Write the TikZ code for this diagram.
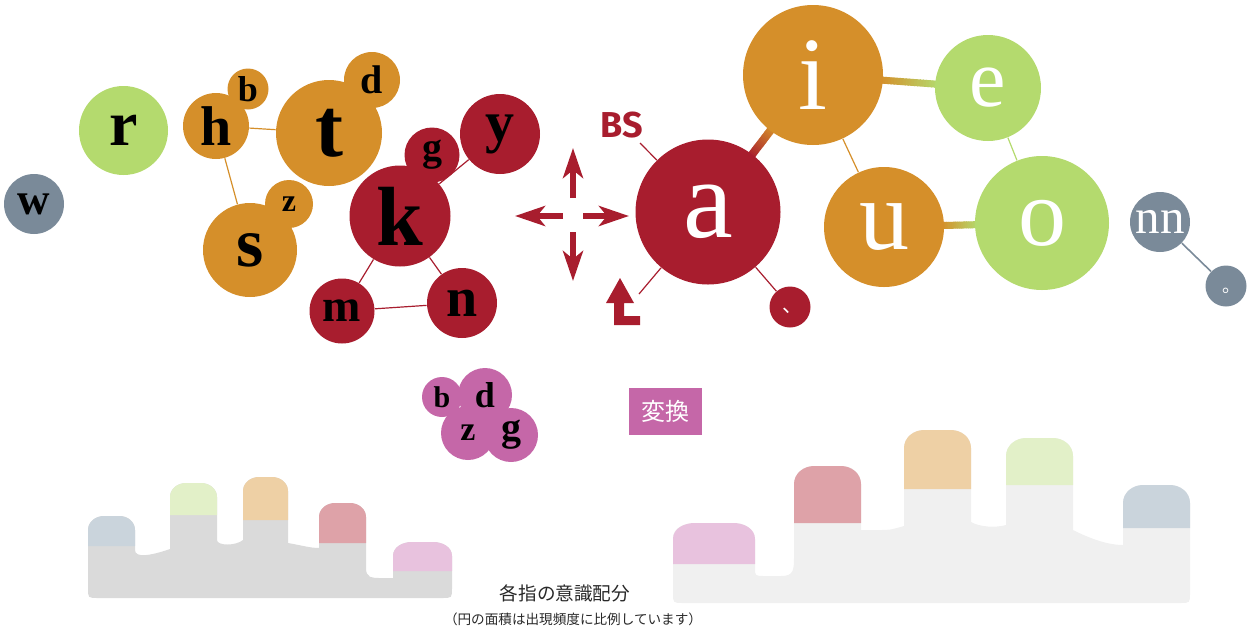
\documentclass[tikz,border=0pt]{standalone}
\usepackage{fontspec}
\setmainfont{Liberation Serif}
\newfontfamily\cjk{Noto Sans CJK JP}
\newfontfamily\bsfont{Fira Sans}
\usetikzlibrary{backgrounds,calc,arrows.meta}
\definecolor{cRed}{RGB}{168,29,46}
\definecolor{cOrange}{RGB}{213,143,42}
\definecolor{cGreen}{RGB}{180,218,110}
\definecolor{cGray}{RGB}{122,138,153}
\definecolor{cPurple}{RGB}{197,103,168}
\definecolor{handL}{RGB}{218,218,218}
\definecolor{handR}{RGB}{240,240,240}
\definecolor{tipBlue}{RGB}{202,212,220}
\definecolor{tipGreen}{RGB}{226,240,200}
\definecolor{tipOrange}{RGB}{238,208,165}
\definecolor{tipRed}{RGB}{222,162,168}
\definecolor{tipPink}{RGB}{232,194,222}
\definecolor{capText}{RGB}{40,40,40}
\newcommand\ftip[7]{%
  \fill[#5] (#1,#4) -- (#1,{#3+#7}) to[out=90,in=180] ({#1+#6},#3) -- ({#2-#6},#3)
    to[out=0,in=90] (#2,{#3+#7}) -- (#2,#4) -- cycle;}
\newcommand\gradcon[7]{%
  \foreach \k in {0,...,19}{%
    \pgfmathsetmacro\ta{#3+(#4-#3)*\k/20}%
    \pgfmathsetmacro\tb{#3+(#4-#3)*(\k+1.3)/20}%
    \pgfmathtruncatemacro\pc{100-5*\k}%
    \draw[line width=#7, color=#5!\pc!#6] ($(#1.center)!\ta!(#2.center)$) -- ($(#1.center)!\tb!(#2.center)$);%
  }}
\tikzset{
  bub/.style={circle, inner sep=0pt, minimum size=#1pt},
  blk/.style={text=black, font={\bfseries\fontsize{#1pt}{#1pt}\selectfont}},
  wht/.style={text=white, font={\fontsize{#1pt}{#1pt}\selectfont}},
  con/.style={line width=0.6pt},
  arrowR/.style={cRed, line width=3pt, -{Stealth[length=15pt,width=10pt,inset=4pt]}},
}
\begin{document}
\begin{tikzpicture}[x=0.5pt,y=-0.5pt]
\useasboundingbox (0,0) rectangle (1259,633);

% ---------- left group ----------
\node[bub=30, fill=cGray, blk=22.5] (nw) at (34,204) {w};
\node[bub=44.5, fill=cGreen, blk=32] (nr) at (123.5,130.5) {r};
\node[bub=33, fill=cOrange, blk=28] (nh) at (216,126) {h};
\node[bub=20.5, fill=cOrange, blk=18] (nb) at (248,89) {b};
\node[bub=53, fill=cOrange, blk=42] (nt) at (329,133) {t};
\node[bub=28, fill=cOrange, blk=20] (nd) at (372,80) {d};
\node[bub=47, fill=cOrange, blk=35] (ns) at (250,250) {s};
\node[bub=24, fill=cOrange, blk=16] (nz) at (289,204) {z};
\node[bub=50.5, fill=cRed, blk=42] (nk) at (400,216) {k};
\node[bub=27.5, fill=cRed, blk=20] (ng) at (432,155) {g};
\node[bub=40, fill=cRed, blk=29] (ny) at (500,134) {y};
\node[bub=32.5, fill=cRed, blk=23] (nm) at (342,311) {m};
\node[bub=35, fill=cRed, blk=28] (nn) at (462,303) {n};

% ---------- cross arrows ----------
\coordinate (upS) at (573,198); \coordinate (upE) at (573,148);
\coordinate (dnS) at (573,232); \coordinate (dnE) at (573,281);
\coordinate (lfS) at (563,216); \coordinate (lfE) at (515,216);
\coordinate (rtS) at (583,216); \coordinate (rtE) at (629,216);
\draw[arrowR] (upS) -- (upE);
\draw[arrowR] (dnS) -- (dnE);
\draw[arrowR] (lfS) -- (lfE);
\draw[arrowR] (rtS) -- (rtE);

% ---------- vowel group ----------
\node[bub=72.5, fill=cRed, wht=56] (na) at (708,212) {a};
\node[bub=70, fill=cOrange, wht=52] (ni) at (813,75) {i};
\node[bub=60, fill=cOrange, wht=50] (nu) at (884,227) {u};
\node[bub=53, fill=cGreen, wht=41] (ne) at (988,88) {e};
\node[bub=67, fill=cGreen, wht=48] (no) at (1042,223) {o};
\node[bub=30, fill=cGray, wht=24.5] (nnn) at (1160,222) {nn};
\node[bub=20.5, fill=cGray, text=white, font={\cjk\fontsize{9pt}{9pt}\selectfont}] (nmaru) at (1226,286)
  {\makebox[0pt]{\hspace{5pt}\raisebox{-6.5pt}{\smash{。}}}};
\node[bub=20.5, fill=cRed, text=white, font={\cjk\fontsize{10pt}{10pt}\selectfont}] (nten) at (790,307)
  {\makebox[0pt]{\hspace{2.5pt}\raisebox{-5pt}{\smash{、}}}};
\node[text=cRed, font={\bsfont\bfseries\fontsize{18pt}{18pt}\selectfont}, inner sep=0pt] (bs) at (622,125) {BS};
\coordinate (bsE) at (640,143);
\coordinate (retE) at (639,294);
\fill[cRed] (620,278) -- (634,303) -- (624,303) -- (624,316) -- (640,316) -- (640,325)
  -- (614,325) -- (614,303) -- (606,303) -- cycle;

% ---------- purple cluster ----------
\node[bub=20, fill=cPurple, blk=15] (pb) at (442,397) {b};
\node[bub=27, fill=cPurple, blk=18] (pd) at (485,395) {d};
\node[bub=27, fill=cPurple, blk=17] (pz) at (468,433) {z};
\node[bub=27, fill=cPurple, blk=20] (pg) at (511,435) {g};
\node[fill=cPurple, minimum width=36.5pt, minimum height=23.5pt, inner sep=0pt,
  text=white, font={\cjk\fontsize{12pt}{12pt}\selectfont}] (henkan) at (665.5,411.5) {変換};

% ---------- hands ----------
\fill[handL] (88,588) -- (88,530) to[out=90,in=180] (104,516) -- (120,516) to[out=0,in=90] (135,530)
  -- (135,550) .. controls (135,558) and (150,556) .. (170,549)
  -- (170,497) to[out=90,in=180] (186,483) -- (201,483) to[out=0,in=90] (217,497)
  -- (217,540) .. controls (217,546) and (236,546) .. (243,540)
  -- (243,491) to[out=90,in=180] (259,477) -- (272,477) to[out=0,in=90] (288,491)
  -- (288,543) .. controls (300,545) and (310,548) .. (319,548)
  -- (319,517) to[out=90,in=180] (335,503) -- (350,503) to[out=0,in=90] (366,517)
  -- (366,568) .. controls (366,578) and (372,578) .. (380,578) -- (393,578)
  -- (393,556) to[out=90,in=180] (412,542) -- (433,542) to[out=0,in=90] (452,556)
  -- (452,588) .. controls (452,598) .. (442,598) -- (98,598) .. controls (88,598) .. (88,588) -- cycle;
\ftip{88}{135}{516}{546}{tipBlue}{16}{14}
\ftip{170}{217}{483}{515}{tipGreen}{16}{14}
\ftip{243}{288}{477}{520}{tipOrange}{16}{14}
\ftip{319}{366}{503}{543}{tipRed}{16}{14}
\ftip{393}{452}{542}{571}{tipPink}{19}{14}

\fill[handR] (673,593) -- (673,538) to[out=90,in=180] (695,523) -- (735,523) to[out=0,in=90] (755,540)
  -- (755,568) .. controls (755,576) .. (765,576) -- (781,576) .. controls (794,576) and (794,570) .. (794,555)
  -- (794,484) to[out=90,in=180] (814,466) -- (842,466) to[out=0,in=90] (861,484)
  -- (861,530) -- (878,530) .. controls (890,530) .. (904,526)
  -- (904,448) to[out=90,in=180] (924,430) -- (951,430) to[out=0,in=90] (971,448)
  -- (971,522) .. controls (980,527) and (995,528) .. (1006,525)
  -- (1006,456) to[out=90,in=180] (1026,438) -- (1053,438) to[out=0,in=90] (1073,456)
  -- (1073,530) .. controls (1085,536) and (1105,545) .. (1123,545)
  -- (1123,503) to[out=90,in=180] (1143,485) -- (1170,485) to[out=0,in=90] (1190,503)
  -- (1190,593) .. controls (1190,603) .. (1180,603) -- (683,603) .. controls (673,603) .. (673,593) -- cycle;
\ftip{673}{755}{523}{564}{tipPink}{22}{16}
\ftip{794}{861}{466}{523}{tipRed}{20}{18}
\ftip{904}{971}{430}{489}{tipOrange}{20}{18}
\ftip{1006}{1073}{438}{485}{tipGreen}{20}{18}
\ftip{1123}{1190}{485}{528}{tipBlue}{20}{18}

% ---------- captions ----------
\node[text=capText, font={\cjk\fontsize{9.3pt}{9.3pt}\selectfont}] (cap1) at (565,593) {各指の意識配分};
\node[text=capText, font={\cjk\fontsize{6.8pt}{6.8pt}\selectfont}] (cap2) at (573,619) {（円の面積は出現頻度に比例しています）};

% ---------- connectors ----------
\begin{scope}[on background layer]
  \draw[con, cOrange] (nh) -- (nt);
  \draw[con, cOrange] (nh) -- (ns);
  \draw[con, cRed] (nk) -- (ny);
  \draw[con, cRed] (nk) -- (nm);
  \draw[con, cRed] (nk) -- (nn);
  \draw[con, cRed] (nm) -- (nn);
  \draw[con, cOrange] (ni) -- (nu);
  \draw[con, cGreen] (ne) -- (no);
  \draw[line width=0.8pt, cGray] (nnn) -- (nmaru);
  \draw[con, cRed] (na) -- (bsE);
  \draw[con, cRed] (na) -- (retE);
  \draw[con, cRed] (na) -- (nten);
  \gradcon{na}{ni}{0.40}{0.61}{cRed}{cOrange}{4pt}
  \gradcon{ni}{ne}{0.38}{0.71}{cOrange}{cGreen}{3.5pt}
  \gradcon{nu}{no}{0.36}{0.59}{cOrange}{cGreen}{3.5pt}
\end{scope}
\end{tikzpicture}
\end{document}
